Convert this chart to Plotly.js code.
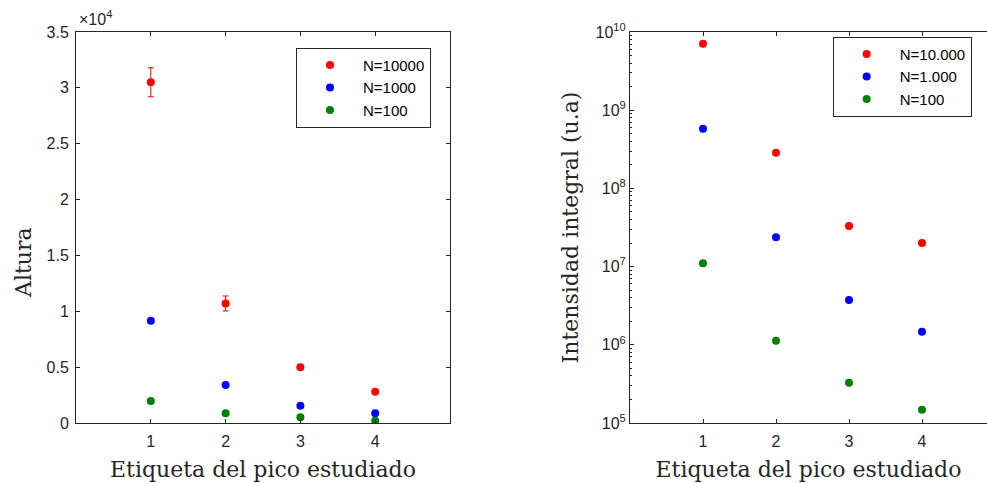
<!DOCTYPE html>
<html>
<head>
<meta charset="utf-8">
<script src="https://cdn.plot.ly/plotly-3.0.1.min.js"></script>
<style>
html,body{margin:0;padding:0;overflow:hidden;background:#fff;}
#chart{width:987px;height:483px;}
</style>
</head>
<body>
<div id="chart"></div>
<script>
// ---- data ----
const peakLabels = [1, 2, 3, 4];
const alturaN10000 = [30500, 10700, 4980, 2800];
const alturaErrN10000 = [1300, 670, 220, 150];
const alturaN1000 = [9160, 3400, 1550, 870];
const alturaN100 = [1970, 870, 510, 210];
const intN10000 = [7.1e9, 2.85e8, 3.3e7, 2.0e7];
const intN1000 = [5.8e8, 2.37e7, 3.74e6, 1.47e6];
const intN100 = [1.1e7, 1.13e6, 3.26e5, 1.48e5];
const leftTickVals = [0, 5000, 10000, 15000, 20000, 25000, 30000, 35000];
const leftTickText = ['0', '0.5', '1', '1.5', '2', '2.5', '3', '3.5'];
const rightTickVals = [1e5, 1e6, 1e7, 1e8, 1e9, 1e10];
const rightTickText = ['10<sup>5</sup>', '10<sup>6</sup>', '10<sup>7</sup>', '10<sup>8</sup>', '10<sup>9</sup>', '10<sup>10</sup>'];
const xTickVals = [1, 2, 3, 4];
const namesLeft = ['N=10000', 'N=1000', 'N=100'];
const namesRight = ['N=10.000', 'N=1.000', 'N=100'];

const RED = '#ff0000', BLUE = '#0000ff', GREEN = '#008000';
const W = 987, H = 483;
const sans = 'Liberation Sans, Arial, sans-serif';
const serif = 'DejaVu Serif, serif';
const axisCol = '#262626';

function mk(x, y, name, color, xa, ya, leg, err) {
  const t = {
    x: x, y: y, name: name, type: 'scatter', mode: 'markers',
    marker: {color: color, size: 8},
    xaxis: xa, yaxis: ya, legend: leg
  };
  if (err) t.error_y = {type: 'data', array: err, visible: true, color: color, thickness: 1, width: 3};
  return t;
}

const traces = [
  mk(peakLabels, alturaN10000, namesLeft[0], RED, 'x', 'y', 'legend', alturaErrN10000),
  mk(peakLabels, alturaN1000, namesLeft[1], BLUE, 'x', 'y', 'legend'),
  mk(peakLabels, alturaN100, namesLeft[2], GREEN, 'x', 'y', 'legend'),
  mk(peakLabels, intN10000, namesRight[0], RED, 'x2', 'y2', 'legend2'),
  mk(peakLabels, intN1000, namesRight[1], BLUE, 'x2', 'y2', 'legend2'),
  mk(peakLabels, intN100, namesRight[2], GREEN, 'x2', 'y2', 'legend2')
];

const yDom = [1 - 423 / H, 1 - 32 / H];
const commonAxis = {
  showline: true, linecolor: axisCol, linewidth: 1, mirror: 'ticks',
  ticks: 'inside', ticklen: 4, tickcolor: axisCol, tickwidth: 1,
  showgrid: false, zeroline: false, fixedrange: true,
  tickfont: {family: sans, size: 16, color: axisCol}
};
const xTitleFont = {family: serif, size: 22, color: '#262626'};

// right panel is clipped by the page edge in the reference: full axis would end at x=995px
const rightAxisEnd = 5 * (987 - 630) / (995 - 630);

const layout = {
  width: W, height: H,
  margin: {l: 0, r: 0, t: 0, b: 0},
  paper_bgcolor: '#fff', plot_bgcolor: '#fff',
  showlegend: true,
  xaxis: Object.assign({}, commonAxis, {
    domain: [76 / W, 450 / W], range: [0, 5], tickvals: xTickVals, anchor: 'y',
    ticklabelstandoff: 4,
    title: {text: 'Etiqueta del pico estudiado', font: xTitleFont, standoff: 12}
  }),
  yaxis: Object.assign({}, commonAxis, {
    domain: yDom, range: [0, 35000], tickvals: leftTickVals, ticktext: leftTickText, anchor: 'x',
    ticklabelstandoff: 3
  }),
  xaxis2: Object.assign({}, commonAxis, {
    domain: [630 / W, 1], range: [0, rightAxisEnd], tickvals: xTickVals, anchor: 'y2',
    ticklabelstandoff: 4,
    title: {text: 'Etiqueta del pico estudiado', font: xTitleFont, standoff: 12}
  }),
  yaxis2: Object.assign({}, commonAxis, {
    domain: yDom, type: 'log', range: [5, 10], tickvals: rightTickVals, ticktext: rightTickText, anchor: 'x2',
    mirror: false,
    minor: {ticks: 'inside', ticklen: 2, tickcolor: axisCol, dtick: 'D1', showgrid: false},
    title: {text: 'Intensidad integral (u.a)', font: xTitleFont, standoff: 10}
  }),
  legend: {
    x: 296 / W, y: 1 - 47.7 / H, xanchor: 'left', yanchor: 'top',
    bgcolor: '#fff', bordercolor: axisCol, borderwidth: 1,
    font: {family: sans, size: 15, color: '#000'}, itemwidth: 56
  },
  legend2: {
    x: 832.7 / W, y: 1 - 36.7 / H, xanchor: 'left', yanchor: 'top',
    bgcolor: '#fff', bordercolor: axisCol, borderwidth: 1,
    font: {family: sans, size: 15, color: '#000'}, itemwidth: 56
  },
  annotations: [
    {text: 'Altura', xref: 'paper', yref: 'paper', x: 23 / W, y: 1 - 263 / H,
     textangle: -90, showarrow: false, xanchor: 'center', yanchor: 'middle',
     font: {family: serif, size: 22, color: '#262626'}},
    {text: '×10<sup>4</sup>', xref: 'paper', yref: 'paper', x: 77 / W, y: 1 - 30 / H,
     showarrow: false, xanchor: 'left', yanchor: 'bottom',
     font: {family: sans, size: 16, color: axisCol}}
  ]
};

Plotly.newPlot('chart', traces, layout, {staticPlot: true, displayModeBar: false});
</script>
</body>
</html>
